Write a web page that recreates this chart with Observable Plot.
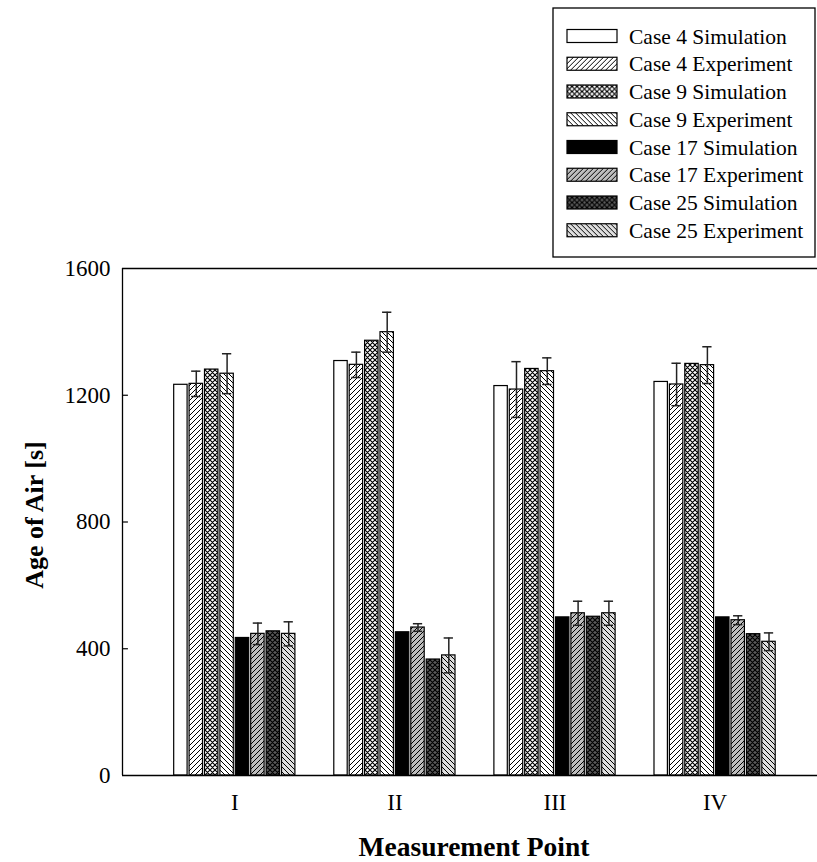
<!DOCTYPE html>
<html>
<head>
<meta charset="utf-8">
<script src="https://cdn.jsdelivr.net/npm/d3@7"></script>
<script src="https://cdn.jsdelivr.net/npm/@observablehq/plot@0.6"></script>
<style>
  body { margin: 0; background: #fff; font-family: "Liberation Serif", "Times New Roman", serif; }
  #wrap { position: relative; width: 817px; height: 862px; }
  #legend { position: absolute; left: 552px; top: 7px; }
</style>
</head>
<body>
<svg width="0" height="0" style="position:absolute">
  <defs>
    <pattern id="slashW" patternUnits="userSpaceOnUse" width="5" height="5">
      <rect width="5" height="5" fill="#fff"/>
      <path d="M-1,1 L1,-1 M0,5 L5,0 M4,6 L6,4" stroke="#000" stroke-width="1"/>
    </pattern>
    <pattern id="crossW" patternUnits="userSpaceOnUse" width="5" height="5">
      <rect width="5" height="5" fill="#fff"/>
      <path d="M-1,1 L1,-1 M0,5 L5,0 M4,6 L6,4 M-1,4 L1,6 M0,0 L5,5 M4,-1 L6,1" stroke="#000" stroke-width="1.15"/>
    </pattern>
    <pattern id="backW" patternUnits="userSpaceOnUse" width="5" height="5">
      <rect width="5" height="5" fill="#fff"/>
      <path d="M-1,4 L1,6 M0,0 L5,5 M4,-1 L6,1" stroke="#000" stroke-width="1"/>
    </pattern>
    <pattern id="slashG" patternUnits="userSpaceOnUse" width="5" height="5">
      <rect width="5" height="5" fill="#bdbdbd"/>
      <path d="M-1,1 L1,-1 M0,5 L5,0 M4,6 L6,4" stroke="#000" stroke-width="1"/>
    </pattern>
    <pattern id="crossD" patternUnits="userSpaceOnUse" width="5" height="5">
      <rect width="5" height="5" fill="#5a5a5a"/>
      <path d="M-1,1 L1,-1 M0,5 L5,0 M4,6 L6,4 M-1,4 L1,6 M0,0 L5,5 M4,-1 L6,1" stroke="#000" stroke-width="1.15"/>
    </pattern>
    <pattern id="backL" patternUnits="userSpaceOnUse" width="5" height="5">
      <rect width="5" height="5" fill="#dedede"/>
      <path d="M-1,4 L1,6 M0,0 L5,5 M4,-1 L6,1" stroke="#000" stroke-width="1"/>
    </pattern>
  </defs>
</svg>
<div id="wrap">
  <div id="chart"></div>
  <div id="legend"></div>
</div>
<script>
// ---- Data ----
const groups = ["I", "II", "III", "IV"];
const seriesNames = [
  "Case 4 Simulation", "Case 4 Experiment",
  "Case 9 Simulation", "Case 9 Experiment",
  "Case 17 Simulation", "Case 17 Experiment",
  "Case 25 Simulation", "Case 25 Experiment"
];
const case4Sim  = [1233, 1308, 1229, 1242];
const case4Exp  = [1236, 1296, 1218, 1234];
const case4Err  = [40, 40, 88, 67];
const case9Sim  = [1281, 1372, 1283, 1299];
const case9Exp  = [1268, 1399, 1276, 1295];
const case9Err  = [63, 63, 42, 58];
const case17Sim = [434, 452, 499, 499];
const case17Exp = [447, 467, 512, 490];
const case17Err = [34, 12, 38, 14];
const case25Sim = [455, 366, 501, 446];
const case25Exp = [447, 379, 512, 422];
const case25Err = [38, 55, 38, 28];
const yTicks = [0, 400, 800, 1200, 1600];
const xLabel = "Measurement Point";
const yLabel = "Age of Air [s]";

// ---- Build table ----
const seriesValues = [case4Sim, case4Exp, case9Sim, case9Exp, case17Sim, case17Exp, case25Sim, case25Exp];
const seriesErrors = [null, case4Err, null, case9Err, null, case17Err, null, case25Err];
const fills = ["#ffffff", "url(#slashW)", "url(#crossW)", "url(#backW)", "#000000", "url(#slashG)", "url(#crossD)", "url(#backL)"];

const xMin = -0.7014, xMax = 3.6396;   // x domain (group index units)
const pitch = 0.0962;                   // bar slot width in group units
const cap = 0.029;                      // half-width of error caps
const tickLen = 0.037;                  // inward y tick length

const rows = [];
seriesValues.forEach((vals, k) => {
  groups.forEach((g, gi) => {
    const x1 = gi + (k - 4) * pitch;
    rows.push({
      k, series: seriesNames[k], group: g, gi,
      value: vals[gi],
      err: seriesErrors[k] ? seriesErrors[k][gi] : null,
      x1, x2: x1 + pitch, c: x1 + pitch / 2
    });
  });
});
const errRows = rows.filter(d => d.err != null);
const groupIdx = groups.map((g, i) => i);

const barMarks = seriesNames.map((name, k) =>
  Plot.rectY(rows.filter(d => d.k === k), {
    x1: "x1", x2: "x2", y1: 0, y2: "value",
    fill: fills[k], stroke: "#000", strokeWidth: 1.2,
    insetLeft: 1, insetRight: 1
  })
);

const FONT = "Liberation Serif, Times New Roman, serif";
const chart = Plot.plot({
  width: 817,
  height: 862,
  marginLeft: 122,
  marginRight: 0,
  marginTop: 268,
  marginBottom: 87,
  style: { fontFamily: FONT, fontSize: "22px", color: "#000", background: "#fff" },
  x: { type: "linear", domain: [xMin, xMax], axis: null },
  y: { domain: [0, 1600], axis: null },
  marks: [
    ...barMarks,
    Plot.ruleX(errRows, { x: "c", y1: d => d.value - d.err, y2: d => d.value + d.err, stroke: "#222", strokeWidth: 1.5 }),
    Plot.ruleY(errRows, { y: d => d.value + d.err, x1: d => d.c - cap, x2: d => d.c + cap, stroke: "#222", strokeWidth: 1.5 }),
    Plot.ruleY(errRows, { y: d => d.value - d.err, x1: d => d.c - cap, x2: d => d.c + cap, stroke: "#222", strokeWidth: 1.5 }),
    Plot.ruleY([yTicks[0], yTicks[yTicks.length - 1]], { stroke: "#000", strokeWidth: 1.3 }),
    Plot.ruleX([xMin], { y1: yTicks[0], y2: yTicks[yTicks.length - 1], stroke: "#000", strokeWidth: 1.3 }),
    Plot.ruleY(yTicks.slice(1, -1), { x1: xMin, x2: xMin + tickLen, stroke: "#000", strokeWidth: 1.2 }),
    // y tick labels
    Plot.text(yTicks, { x: xMin, y: d => d, text: d => String(d), textAnchor: "end", dx: -12, fontSize: 23, fontFamily: FONT, lineAnchor: "middle" }),
    // x tick labels
    Plot.text(groupIdx, { x: d => d, y: yTicks[0], text: d => groups[d], dy: 27, fontSize: 23, fontFamily: FONT, lineAnchor: "middle" }),
    // axis titles
    Plot.text([yLabel], { x: xMin, y: (yTicks[0] + yTicks[yTicks.length - 1]) / 2, text: d => d, rotate: -90, dx: -88, dy: -7, fontWeight: "bold", fontSize: 26, fontFamily: FONT, lineAnchor: "middle" }),
    Plot.text([xLabel], { text: d => d, frameAnchor: "bottom", dx: 4, dy: 72, fontWeight: "bold", fontSize: 27.5, fontFamily: FONT, lineAnchor: "middle" })
  ]
});
document.getElementById("chart").appendChild(chart);

// ---- Legend ----
const lw = 264, lh = 251;
const leg = d3.select("#legend").append("svg").attr("width", lw).attr("height", lh);
leg.append("rect").attr("x", 1).attr("y", 1).attr("width", lw - 2).attr("height", lh - 2)
  .attr("fill", "#fff").attr("stroke", "#000").attr("stroke-width", 1.3);
const item = leg.selectAll("g.item").data(seriesNames).join("g")
  .attr("transform", (d, i) => `translate(0,${29 + i * 27.75})`);
item.append("rect").attr("x", 15).attr("y", -6.5).attr("width", 50).attr("height", 13)
  .attr("fill", (d, i) => fills[i]).attr("stroke", "#000").attr("stroke-width", 1.2);
item.append("text").attr("x", 77).attr("y", 0).attr("dy", "0.35em")
  .attr("font-family", FONT).attr("font-size", 21.5)
  .attr("fill", "#000").text(d => d);
</script>
</body>
</html>
